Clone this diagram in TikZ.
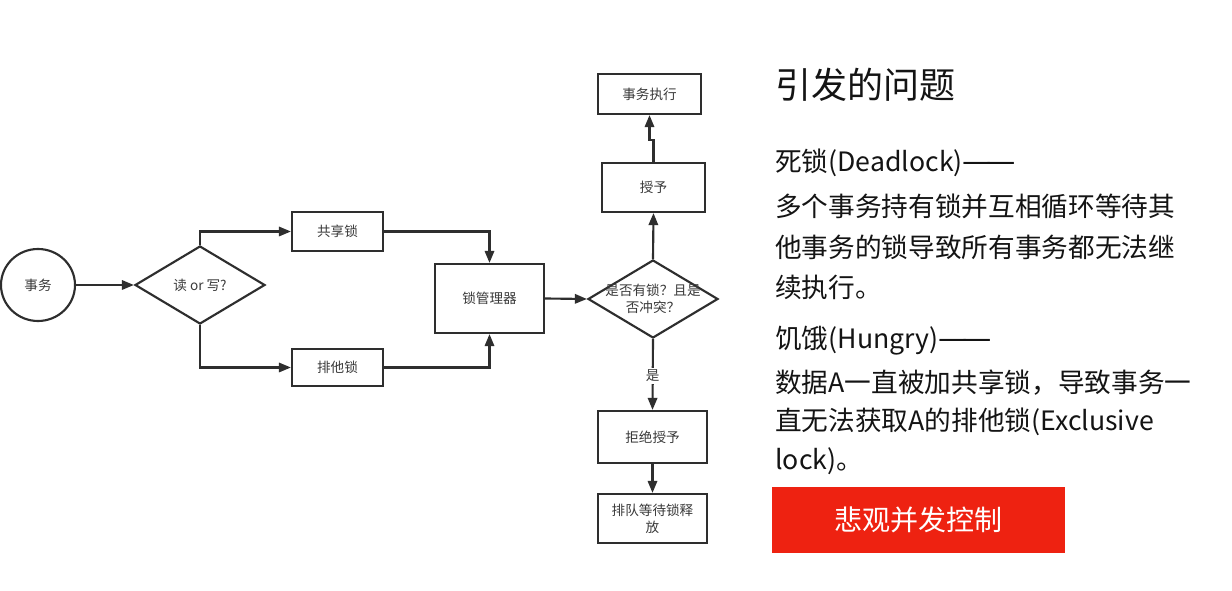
\documentclass[tikz,border=0pt]{standalone}
\usepackage{fontspec}
\setmainfont{Noto Sans CJK SC}
\newfontfamily\dashfont{DejaVu Sans}
\usetikzlibrary{arrows.meta,shapes.geometric}
\definecolor{ln}{HTML}{2E2E2E}
\definecolor{tx}{HTML}{3A3A3A}
\definecolor{redbox}{HTML}{EE2211}
\newcommand\ldash{{\dashfont\fontsize{22pt}{24pt}\selectfont —\kern-0.2em—}}
\begin{document}
\begin{tikzpicture}[x=0.75pt,y=-0.75pt,
  fc/.style={font=\fontsize{10.2pt}{13pt}\selectfont, text=tx},
  box/.style={fc, draw=ln, line width=1.6pt, rectangle, inner sep=0pt, align=center},
  dia/.style={draw=ln, line width=1.6pt, diamond, inner sep=0pt, minimum width=97.5pt, minimum height=58.5pt},
  arr/.style={draw=ln, line width=1.6pt, -{Triangle[length=9pt,width=7pt]}},
  rt/.style={anchor=west, inner sep=0pt, text=black!92},
  body/.style={rt, font=\fontsize{20pt}{24pt}\selectfont},
  lbl/.style={fc, fill=white, inner sep=1.5pt}
]
\useasboundingbox (0,0) rectangle (1232,591);
\fill[white] (0,0) rectangle (1232,591);
% flowchart nodes
\node[box, ellipse, minimum width=55.5pt, minimum height=54pt] (c) at (38,285) {事务};
\node[dia] (d1) at (200,285) {};
\node[fc] at (d1) {读 or 写?};
\node[box, minimum width=68.25pt, minimum height=29.25pt] (s) at (337.5,231.5) {共享锁};
\node[box, minimum width=68.25pt, minimum height=28pt] (x) at (337.5,367.5) {排他锁};
\node[box, minimum width=81.75pt, minimum height=51.75pt] (m) at (489.5,298.5) {锁管理器};
\node[dia] (d2) at (653,299) {};
\node[fc, align=center] at (d2) {是否有锁？且是\\否冲突？};
\node[box, minimum width=77.25pt, minimum height=36.75pt] (g) at (653.5,187.5) {授予};
\node[box, minimum width=77.25pt, minimum height=30pt] (e) at (649.5,94) {事务执行};
\node[box, minimum width=81.75pt, minimum height=39pt] (r) at (652.5,437) {拒绝授予};
\node[box, minimum width=81.75pt, minimum height=36.75pt] (q) at (652.5,518.5) {排队等待锁释\\放};
\coordinate (j) at (653.5,140);
% connectors
\draw[arr] (c.east) -- (d1.west);
\draw[arr] (d1.north) |- (s.west);
\draw[arr] (d1.south) |- (x.west);
\draw[arr] (s.east) -| (m.north);
\draw[arr] (x.east) -| (m.south);
\draw[arr] (m.east) -- (d2.west);
\draw[arr] (d2.north) -- (g.south);
\draw[arr] (g.north) -- (j) -| (e.south);
\draw[arr] (d2.south) -- node[lbl, pos=0.52] {是} (r.north);
\draw[arr] (r.south) -- (q.north);
% right text
\node[rt, font=\fontsize{27pt}{32pt}\selectfont] (t0) at (775,85) {引发的问题};
\node[body] (t1) at (775,163) {死锁(Deadlock)\ldash};
\node[body] (t2) at (775,206) {多个事务持有锁并互相循环等待其};
\node[body] (t3) at (775,247) {他事务的锁导致所有事务都无法继};
\node[body] (t4) at (775,287) {续执行。};
\node[body] (t5) at (775,341) {饥饿(Hungry)\ldash};
\node[body] (t6) at (775,383) {数据A一直被加共享锁，导致事务一};
\node[body] (t7) at (775,422) {直无法获取A的排他锁(Exclusive};
\node[body] (t8) at (775,461) {lock)。};
\node[fill=redbox, minimum width=219.75pt, minimum height=49.5pt, inner sep=0pt,
      text=white, font=\fontsize{21pt}{25pt}\selectfont] (rb) at (918.5,520) {悲观并发控制};
\end{tikzpicture}
\end{document}
